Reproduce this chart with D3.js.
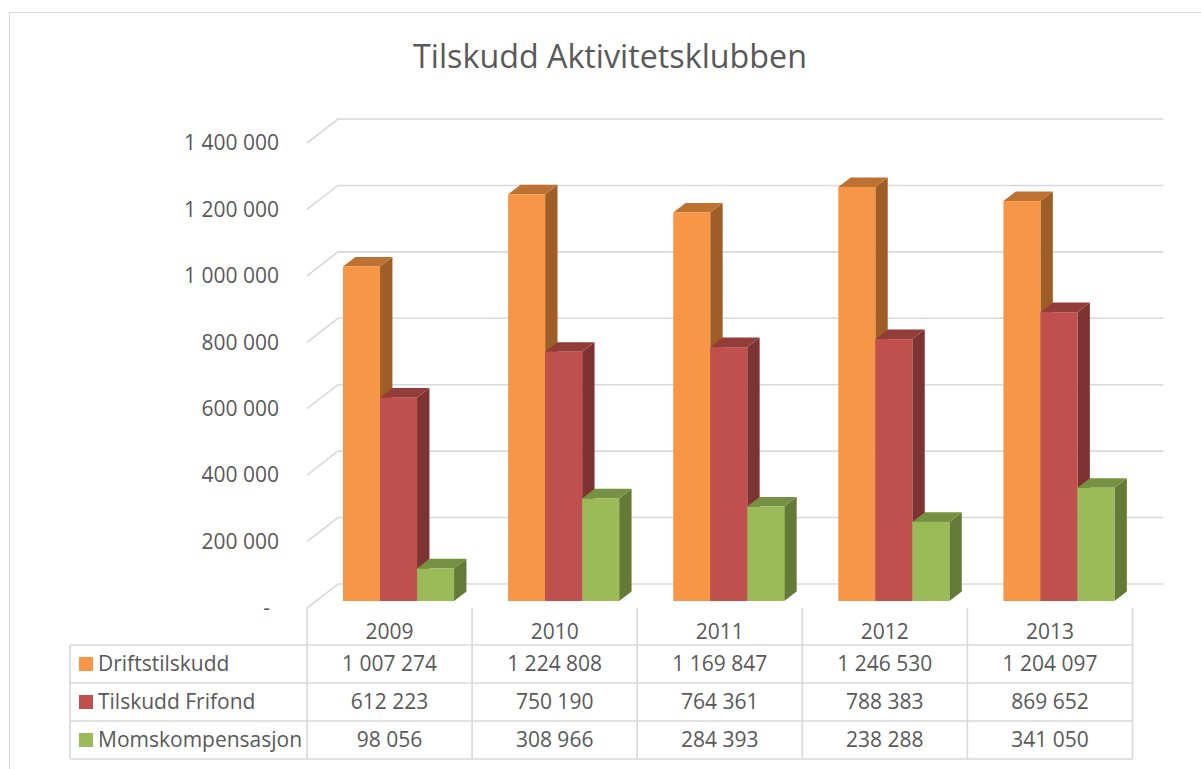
<!DOCTYPE html>
<html>
<head>
<meta charset="utf-8">
<script src="https://cdn.jsdelivr.net/npm/d3@7"></script>
<style>
  html, body { margin: 0; padding: 0; background: #fff; }
  svg { display: block; }
  text { font-family: "Open Sans", "Noto Sans", sans-serif; fill: #595959; }
</style>
</head>
<body>
<svg id="chart" width="1201" height="769"></svg>
<script>
// ---- Data ----
const title = "Tilskudd Aktivitetsklubben";
const years = ["2009", "2010", "2011", "2012", "2013"];
const seriesNames = ["Driftstilskudd", "Tilskudd Frifond", "Momskompensasjon"];
const driftstilskudd = [1007274, 1224808, 1169847, 1246530, 1204097];
const tilskuddFrifond = [612223, 750190, 764361, 788383, 869652];
const momskompensasjon = [98056, 308966, 284393, 238288, 341050];
const tickValues = [0, 200000, 400000, 600000, 800000, 1000000, 1200000, 1400000];

const seriesValues = [driftstilskudd, tilskuddFrifond, momskompensasjon];
const frontColors = ["#F79646", "#C0504D", "#9BBB59"];
const topColors   = ["#BE7232", "#933D3A", "#779142"];
const sideColors  = ["#9F5E28", "#7D3331", "#647A37"];

// ---- Layout ----
const svg = d3.select("#chart");
const DX = 31, DY = 24;           // depth offset of the back wall
const zFront = 0.29, zBack = 0.69; // bar depth range

const x = d3.scaleBand().domain(years).range([307, 1132.5]).padding(0);
const xs = d3.scaleBand().domain(seriesNames).range([0, x.bandwidth()])
  .paddingInner(0).paddingOuter(0.73);
const y = d3.scaleLinear().domain([0, 1400000]).range([608, 143]);

const fmt = v => v === 0 ? "-" : d3.format(",")(v).replace(/,/g, " ");
const P = (px, v, z) => [px + z * DX, y(v) - z * DY];

// outer frame
svg.append("rect").attr("x", 9.5).attr("y", 12.5).attr("width", 1400).attr("height", 900)
  .attr("fill", "none").attr("stroke", "#D9D9D9").attr("stroke-width", 1);

// title
const t = svg.append("text").attr("x", 610).attr("y", 68).attr("text-anchor", "middle")
  .style("font-size", "30px").text(title);
const tl = t.node().getComputedTextLength();
t.style("font-size", (30 * 394 / tl).toFixed(2) + "px");

// gridlines (back wall + side wall)
const grid = svg.append("g").attr("stroke", "#D9D9D9").attr("stroke-width", 1.6).attr("fill", "none");
const x0 = x.range()[0], x1 = x.range()[1];
tickValues.forEach(v => {
  const a = P(x0, v, 0), b = P(x0, v, 1), c = P(x1, v, 1);
  grid.append("path").attr("d", d3.line()([a, b, c]));
});

// y tick labels
svg.append("g").selectAll("text").data(tickValues).join("text")
  .attr("x", d => d === 0 ? 270 : 279).attr("y", d => y(d))
  .attr("dy", "0.35em").attr("text-anchor", "end")
  .style("font-size", "21px").text(fmt);

// bars
const bars = svg.append("g");
years.forEach((yr, i) => {
  seriesNames.forEach((s, j) => {
    const v = seriesValues[j][i];
    const bx0 = x(yr) + xs(s), bx1 = bx0 + xs.bandwidth();
    const g = bars.append("g");
    // side face
    g.append("path").attr("fill", sideColors[j]).attr("d", d3.line()([
      P(bx1, v, zFront), P(bx1, v, zBack), P(bx1, 0, zBack), P(bx1, 0, zFront)
    ]) + "Z");
    // top face
    g.append("path").attr("fill", topColors[j]).attr("d", d3.line()([
      P(bx0, v, zFront), P(bx1, v, zFront), P(bx1, v, zBack), P(bx0, v, zBack)
    ]) + "Z");
    // front face
    const tlp = P(bx0, v, zFront), brp = P(bx1, 0, zFront);
    g.append("rect").attr("fill", frontColors[j])
      .attr("x", tlp[0]).attr("y", tlp[1])
      .attr("width", brp[0] - tlp[0]).attr("height", brp[1] - tlp[1]);
  });
});

// data table
const rowTops = [645, 683, 721, 759];
const table = svg.append("g").attr("stroke", "#D9D9D9").attr("stroke-width", 1.6).attr("fill", "none");
rowTops.forEach(ry => table.append("line").attr("x1", 70).attr("x2", x1).attr("y1", ry).attr("y2", ry));
table.append("line").attr("x1", 70).attr("x2", 70).attr("y1", 645).attr("y2", 759);
years.concat(["end"]).forEach((yr, i) => {
  const lx = i < years.length ? x(yr) : x1;
  table.append("line").attr("x1", lx).attr("x2", lx).attr("y1", 608).attr("y2", 759);
});

// category labels
svg.append("g").selectAll("text").data(years).join("text")
  .attr("x", d => x(d) + x.bandwidth() / 2).attr("y", 632).attr("dy", "0.35em")
  .attr("text-anchor", "middle").style("font-size", "21px").text(d => d);

// rows
seriesNames.forEach((s, j) => {
  const cy = (rowTops[j] + rowTops[j + 1]) / 2;
  svg.append("rect").attr("x", 79).attr("y", cy - 7).attr("width", 14).attr("height", 14)
    .attr("fill", frontColors[j]);
  svg.append("text").attr("x", 98).attr("y", cy).attr("dy", "0.35em")
    .style("font-size", "21px").text(s);
  svg.append("g").selectAll("text").data(seriesValues[j]).join("text")
    .attr("x", (d, i) => x(years[i]) + x.bandwidth() / 2).attr("y", cy).attr("dy", "0.35em")
    .attr("text-anchor", "middle").style("font-size", "21px").text(fmt);
});
</script>
</body>
</html>
